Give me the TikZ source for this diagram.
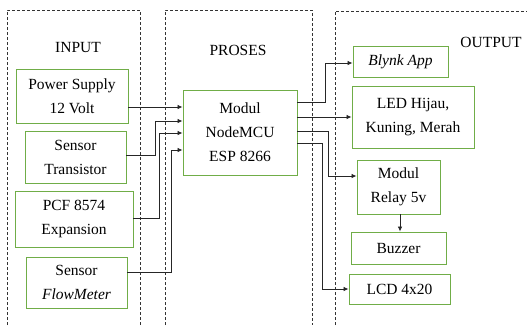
\documentclass[tikz,border=0pt]{standalone}
\usepackage{fontspec}
\setmainfont{Liberation Serif}
\usetikzlibrary{arrows.meta}
\definecolor{boxgreen}{RGB}{112,173,71}
\begin{document}
\begin{tikzpicture}[x=1pt,y=-1pt,
    every node/.style={font=\fontsize{15.5}{24}\selectfont, align=center, inner sep=0pt},
    blok/.style={draw=boxgreen, line width=0.9pt, fill=white},
    panel/.style={draw=black!80, dash pattern=on 3pt off 2pt, line width=0.7pt},
    arus/.style={-{Latex[length=5pt,width=4.5pt]}, line width=0.8pt, black!85}]
  \useasboundingbox (0,0) rectangle (527,325);
  \draw[panel] (7,325) |- (140,10) -- (140,325);
  \draw[panel] (165,325) |- (312,10) -- (312,325);
  \draw[panel] (335,325) |- (527,11);
  \node (tin) at (78,47) {INPUT};
  \node (tpro) at (238,50) {PROSES};
  \node (tout) at (491,42) {OUTPUT};
  \node[blok, minimum width=112, minimum height=54] (psu) at (72,96) {Power Supply\\12 Volt};
  \node[blok, minimum width=101, minimum height=52] (trans) at (75.5,157) {Sensor\\Transistor};
  \node[blok, minimum width=118, minimum height=56] (pcf) at (74,219) {PCF 8574\\Expansion};
  \node[blok, minimum width=101, minimum height=51] (flow) at (76.5,282.5) {Sensor\\\textit{FlowMeter}};
  \node[blok, minimum width=114, minimum height=85] (mcu) at (240,132.5) {Modul\\NodeMCU\\ESP 8266};
  \node[blok, minimum width=95, minimum height=31] (blynk) at (400.5,61.5) {\textit{Blynk App}};
  \node[blok, minimum width=122, minimum height=62] (led) at (413,117) {LED Hijau,\\Kuning, Merah};
  \node[blok, minimum width=83, minimum height=54] (relay) at (398.5,187) {Modul\\Relay 5v};
  \node[blok, minimum width=95, minimum height=32] (buzz) at (398.5,248) {Buzzer};
  \node[blok, minimum width=101, minimum height=30] (lcd) at (399.5,289) {LCD 4x20};
  \draw[arus] (psu.east |- 0,107) -- (mcu.west |- 0,107);
  \draw[arus] (trans.east |- 0,155) -| (155,121) -- (mcu.west |- 0,121);
  \draw[arus] (pcf.east |- 0,218) -| (159,133) -- (mcu.west |- 0,133);
  \draw[arus] (flow.east |- 0,272) -| (171,150) -- (mcu.west |- 0,150);
  \draw[arus] (mcu.east |- 0,102) -| (325,63) -- (blynk.west |- 0,63);
  \draw[arus] (mcu.east |- 0,117) -- (led.west);
  \draw[arus] (mcu.east |- 0,131) -| (328,176) -- (relay.west |- 0,176);
  \draw[arus] (mcu.east |- 0,143) -| (322,289) -- (lcd.west);
  \draw[arus] (relay.south -| 400,0) -- (buzz.north -| 400,0);
\end{tikzpicture}
\end{document}
